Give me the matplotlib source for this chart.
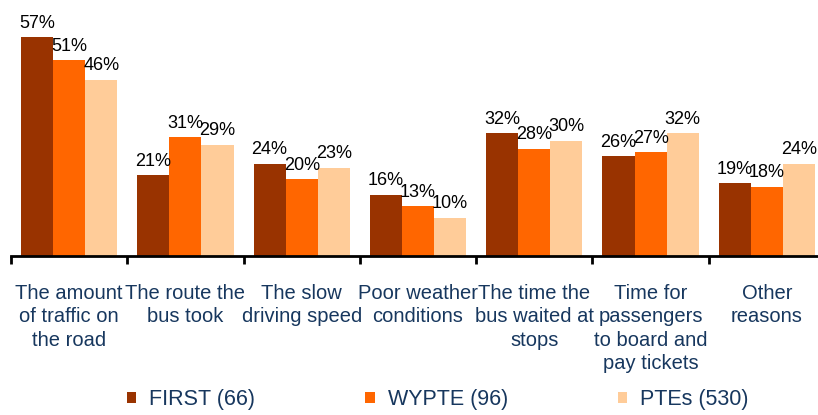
import matplotlib
matplotlib.use('Agg')
import matplotlib.pyplot as plt
import numpy as np

plt.rcParams['font.family'] = ['Liberation Sans', 'DejaVu Sans']

categories = ['The amount\nof traffic on\nthe road', 'The route the\nbus took',
              'The slow\ndriving speed', 'Poor weather\nconditions',
              'The time the\nbus waited at\nstops', 'Time for\npassengers\nto board and\npay tickets',
              'Other\nreasons']
first = [57, 21, 24, 16, 32, 26, 19]
wypte = [51, 31, 20, 13, 28, 27, 18]
ptes = [46, 29, 23, 10, 30, 32, 24]
series_names = ['FIRST (66)', 'WYPTE (96)', 'PTEs (530)']
colors = ['#993300', '#FF6600', '#FFCC99']

fig = plt.figure(figsize=(8.18, 4.15), dpi=100)
ax = fig.add_axes([11 / 818, 159 / 415, 814 / 818, 230 / 415])

x = np.arange(len(categories))
w = 0.276
bars = []
for k, (vals, col) in enumerate(zip([first, wypte, ptes], colors)):
    b = ax.bar(x + (k - 1) * w, vals, w, color=col, label=series_names[k])
    bars.append(b)
    for rect, v in zip(b, vals):
        ax.annotate(f'{v}%', (rect.get_x() + rect.get_width() / 2, v),
                    xytext=(0, 4), textcoords='offset points',
                    ha='center', va='bottom', fontsize=13, color='black')

ax.set_xlim(-0.5, 6.5)
ax.set_ylim(0, 60)
ax.set_yticks([])
for s in ['top', 'right', 'left']:
    ax.spines[s].set_visible(False)
ax.spines['bottom'].set_linewidth(2)

ax.set_xticks(x)
ax.set_xticklabels(categories, fontsize=14.5, color='#17375E', linespacing=1.3, va='top')
ax.tick_params(axis='x', which='major', length=0, pad=20)
ax.set_xticks(np.arange(-0.5, 7, 1), minor=True)
ax.tick_params(axis='x', which='minor', length=6, width=2, direction='out')

leg = fig.legend(handles=bars, labels=series_names, loc='lower center',
                 bbox_to_anchor=(0.535, -0.035), ncol=3, frameon=False,
                 fontsize=15.5, handlelength=0.45, handleheight=0.45,
                 handletextpad=0.6, columnspacing=5.1)
for t in leg.get_texts():
    t.set_color('#17375E')

fig.savefig('out.png', dpi=100)
